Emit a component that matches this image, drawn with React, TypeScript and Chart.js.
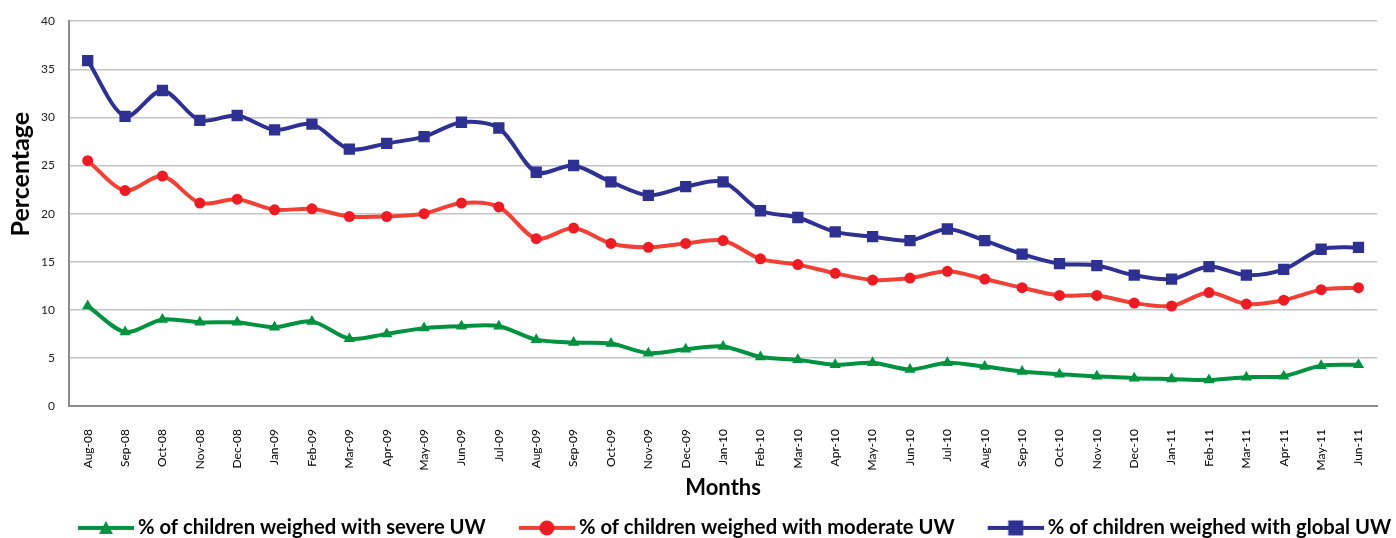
import React, { useEffect, useRef } from "react";
import { Chart, registerables } from "chart.js";

Chart.register(...registerables);

const months = [
  "Aug-08","Sep-08","Oct-08","Nov-08","Dec-08","Jan-09","Feb-09","Mar-09","Apr-09","May-09","Jun-09","Jul-09",
  "Aug-09","Sep-09","Oct-09","Nov-09","Dec-09","Jan-10","Feb-10","Mar-10","Apr-10","May-10","Jun-10","Jul-10",
  "Aug-10","Sep-10","Oct-10","Nov-10","Dec-10","Jan-11","Feb-11","Mar-11","Apr-11","May-11","Jun-11",
];

const severeUW = [
  10.4, 7.7, 9.0, 8.7, 8.7, 8.2, 8.8, 7.0, 7.5, 8.1, 8.3, 8.3,
  6.9, 6.6, 6.5, 5.5, 5.9, 6.2, 5.1, 4.8, 4.3, 4.5, 3.8, 4.5,
  4.1, 3.6, 3.3, 3.1, 2.9, 2.8, 2.7, 3.0, 3.1, 4.2, 4.3,
];

const moderateUW = [
  25.5, 22.4, 23.9, 21.1, 21.5, 20.4, 20.5, 19.7, 19.7, 20.0, 21.1, 20.7,
  17.4, 18.5, 16.9, 16.5, 16.9, 17.2, 15.3, 14.7, 13.8, 13.1, 13.3, 14.0,
  13.2, 12.3, 11.5, 11.5, 10.7, 10.4, 11.8, 10.6, 11.0, 12.1, 12.3,
];

const globalUW = [
  35.9, 30.1, 32.8, 29.7, 30.2, 28.7, 29.3, 26.7, 27.3, 28.0, 29.5, 28.9,
  24.3, 25.0, 23.3, 21.9, 22.8, 23.3, 20.3, 19.6, 18.1, 17.6, 17.2, 18.4,
  17.2, 15.8, 14.8, 14.6, 13.6, 13.2, 14.5, 13.6, 14.2, 16.3, 16.5,
];

const seriesNames = [
  "% of children weighed with severe UW",
  "% of children weighed with moderate UW",
  "% of children weighed with global UW",
];

const yTicks = [0, 5, 10, 15, 20, 25, 30, 35, 40];

const GREEN = "#00923F";
const RED_LINE = "#EF4136";
const RED_MARK = "#ED1C24";
const BLUE = "#2E3192";
const FONT = "Lato, 'Open Sans', sans-serif";
const ICON_GAP = 33;
const ICON_LINE = 56;
const ICON_OVERHANG = 6;
const ICON_BOX = ICON_GAP + ICON_LINE - ICON_OVERHANG;
const LEGEND_SHIFT = 21;

function legendIcon(kind: string, lineColor: string, markColor: string): HTMLCanvasElement {
  const c = document.createElement("canvas");
  c.width = ICON_BOX + 2 * ICON_OVERHANG;
  c.height = 18;
  const ctx = c.getContext("2d")!;
  const x1 = c.width;
  const x0 = x1 - ICON_LINE;
  const cx = x0 + ICON_LINE / 2;
  ctx.strokeStyle = lineColor;
  ctx.lineWidth = 4;
  ctx.beginPath();
  ctx.moveTo(x0, 9);
  ctx.lineTo(x1, 9);
  ctx.stroke();
  ctx.fillStyle = markColor;
  ctx.beginPath();
  if (kind === "triangle") {
    ctx.moveTo(cx, 2);
    ctx.lineTo(cx + 7, 15);
    ctx.lineTo(cx - 7, 15);
    ctx.closePath();
  } else if (kind === "circle") {
    ctx.arc(cx, 9, 7.5, 0, Math.PI * 2);
  } else {
    ctx.rect(cx - 7.5, 1.5, 15, 15);
  }
  ctx.fill();
  return c;
}

const shiftLegend = {
  id: "shiftLegend",
  afterLayout(chart: any) {
    if (chart.legend) {
      chart.legend.left += LEGEND_SHIFT;
      chart.legend.right += LEGEND_SHIFT;
    }
  },
};

// Y title sits above the axis centre in the reference; leading spaces lift it.
const yTitle = "\u00A0".repeat(13) + "Percentage";

export default function App() {
  const ref = useRef<HTMLCanvasElement | null>(null);

  useEffect(() => {
    if (!ref.current) return;
    const icons = [
      legendIcon("triangle", GREEN, GREEN),
      legendIcon("circle", RED_LINE, RED_MARK),
      legendIcon("rect", BLUE, BLUE),
    ];
    const chart = new Chart(ref.current, {
      type: "line",
      plugins: [shiftLegend],
      data: {
        labels: months,
        datasets: [
          {
            label: seriesNames[0],
            data: severeUW,
            borderColor: GREEN,
            backgroundColor: GREEN,
            borderWidth: 4,
            pointStyle: "triangle",
            pointRadius: 6.5,
            pointBorderWidth: 0,
            tension: 0.3,
          },
          {
            label: seriesNames[1],
            data: moderateUW,
            borderColor: RED_LINE,
            backgroundColor: RED_MARK,
            borderWidth: 4,
            pointStyle: "circle",
            pointRadius: 5.5,
            pointBorderWidth: 0,
            tension: 0.3,
          },
          {
            label: seriesNames[2],
            data: globalUW,
            borderColor: BLUE,
            backgroundColor: BLUE,
            borderWidth: 4,
            pointStyle: "rect",
            pointRadius: 8,
            pointBorderWidth: 0,
            tension: 0.3,
          },
        ],
      },
      options: {
        animation: false,
        responsive: true,
        maintainAspectRatio: false,
        layout: { padding: { top: 8, right: 6, left: 4, bottom: -10 } },
        plugins: {
          tooltip: { enabled: false },
          legend: {
            position: "bottom",
            labels: {
              usePointStyle: true,
              pointStyleWidth: ICON_BOX,
              padding: 0,
              color: "#000",
              font: { family: FONT, size: 20.2, weight: "bold" },
              generateLabels: (ch: any) => {
                const base = Chart.defaults.plugins.legend.labels.generateLabels(ch);
                return base.map((l: any, i: number) => ({ ...l, pointStyle: icons[i] }));
              },
            },
          },
        },
        scales: {
          x: {
            offset: true,
            grid: { display: false, drawTicks: false },
            border: { display: true, color: "#8C8C8C", width: 2 },
            ticks: {
              minRotation: 90,
              maxRotation: 90,
              autoSkip: false,
              padding: 23,
              color: "#000",
              font: { family: FONT, size: 12 },
            },
            afterFit: (axis: any) => {
              axis.height -= 19;
            },
            title: {
              display: true,
              text: "Months",
              color: "#000",
              font: { family: FONT, size: 22, weight: "bold" },
              padding: { top: 0, bottom: 17 },
            },
          },
          y: {
            min: 0,
            max: 40,
            afterBuildTicks: (axis: any) => {
              axis.ticks = yTicks.map((v) => ({ value: v }));
            },
            afterFit: (axis: any) => {
              axis.width = 65;
            },
            grid: { color: "#C4C4C8", lineWidth: 1.5, drawTicks: false },
            border: { display: true, color: "#8C8C8C", width: 2 },
            ticks: {
              padding: 14,
              color: "#222",
              font: { family: FONT, size: 12 },
            },
            title: {
              display: true,
              text: yTitle,
              color: "#000",
              font: { family: FONT, size: 25, weight: "bold" },
              padding: { top: 2, bottom: 0 },
            },
          },
        },
      },
    });
    return () => chart.destroy();
  }, []);

  return (
    <div style={{ position: "absolute", left: 0, top: 0, width: 1396, height: 538, background: "#fff" }}>
      <canvas ref={ref} />
    </div>
  );
}
